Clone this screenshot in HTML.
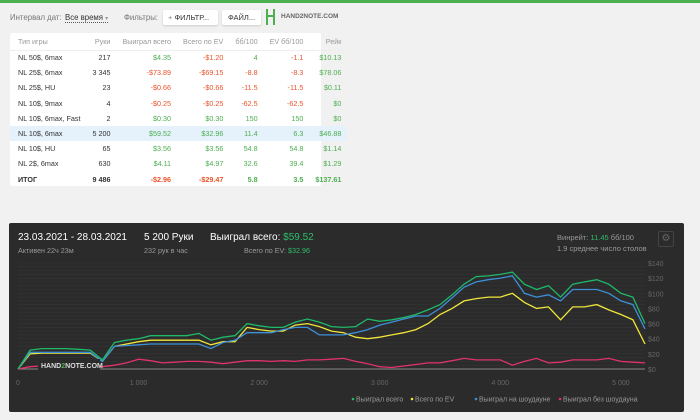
<!DOCTYPE html>
<html><head><meta charset="utf-8"><style>
*{margin:0;padding:0;box-sizing:border-box}
body{width:700px;height:420px;background:#f1f1f1;font-family:"Liberation Sans","Noto Sans CJK SC",sans-serif;position:relative;overflow:hidden}
.abs{position:absolute;white-space:nowrap}
.topline{left:0;top:0;width:700px;height:3px;background:#4caf50}
.card{left:10px;top:33px;width:311px;height:153px;background:#fff;border-radius:2px}
table{border-collapse:collapse;font-size:7.2px;color:#333;position:absolute;left:0;top:0;width:311px}
td,th{height:15.2px;padding:0 6px;text-align:right;font-weight:normal}
th{color:#999;height:17px}
td:first-child,th:first-child{text-align:left;padding-left:8px}
.g{color:#4caf50}.r{color:#e8542c}
tr.hl td{background:#e5f1fb}
tr.tot td{font-weight:bold}
tr.b td{border-top:1px solid #eee}
.panel{left:9px;top:223px;width:675px;height:189px;background:#2b2b2b;border-radius:2px}
.big{font-size:10px;color:#fff;top:232px}
</style></head><body>
<div class="abs topline"></div>
<div class="abs" style="left:10px;top:13px;font-size:7.8px;color:#777">Интервал дат:</div>
<div class="abs" style="left:65px;top:13px;font-size:7.8px;color:#333;border-bottom:1px dotted #555">Все время <span style="color:#999;font-size:6px">▾</span></div>
<div class="abs" style="left:124px;top:13px;font-size:7.8px;color:#777">Фильтры:</div>
<div class="abs" style="left:163px;top:10px;width:55px;height:15px;background:#fff;border-radius:2px;box-shadow:0 1px 2px #ccc;font-size:7.5px;color:#333;padding:3px 5px"><span style="color:#888">+</span> ФИЛЬТР...</div>
<div class="abs" style="left:222px;top:10px;width:39px;height:15px;background:#fff;border-radius:2px;box-shadow:0 1px 2px #ccc;font-size:7.5px;color:#333;padding:3px 6px">ФАЙЛ...</div>
<div class="abs" style="left:266px;top:9px;width:9px;height:16px;border-left:2px solid #4caf50;border-right:2px solid #4caf50"><div style="position:absolute;left:0;top:6px;width:5px;height:2px;background:#4caf50"></div></div>
<div class="abs" style="left:281px;top:13px;font-size:6.5px;color:#666;font-weight:bold">HAND2NOTE.COM</div>

<div class="abs card">
<table>
<tr><th>Тип игры</th><th>Руки</th><th>Выиграл всего</th><th>Всего по EV</th><th>бб/100</th><th>EV бб/100</th><th>Рейк</th></tr>
<tr class="b"><td>NL 50$, 6max</td><td>217</td><td class="g">$4.35</td><td class="r">-$1.20</td><td class="g">4</td><td class="r">-1.1</td><td class="g">$10.13</td></tr>
<tr><td>NL 25$, 6max</td><td>3 345</td><td class="r">-$73.89</td><td class="r">-$69.15</td><td class="r">-8.8</td><td class="r">-8.3</td><td class="g">$78.06</td></tr>
<tr><td>NL 25$, HU</td><td>23</td><td class="r">-$0.66</td><td class="r">-$0.66</td><td class="r">-11.5</td><td class="r">-11.5</td><td class="g">$0.11</td></tr>
<tr><td>NL 10$, 9max</td><td>4</td><td class="r">-$0.25</td><td class="r">-$0.25</td><td class="r">-62.5</td><td class="r">-62.5</td><td class="g">$0</td></tr>
<tr><td>NL 10$, 6max, Fast</td><td>2</td><td class="g">$0.30</td><td class="g">$0.30</td><td class="g">150</td><td class="g">150</td><td class="g">$0</td></tr>
<tr class="hl"><td>NL 10$, 6max</td><td>5 200</td><td class="g">$59.52</td><td class="g">$32.96</td><td class="g">11.4</td><td class="g">6.3</td><td class="g">$46.88</td></tr>
<tr><td>NL 10$, HU</td><td>65</td><td class="g">$3.56</td><td class="g">$3.56</td><td class="g">54.8</td><td class="g">54.8</td><td class="g">$1.14</td></tr>
<tr><td>NL 2$, 6max</td><td>630</td><td class="g">$4.11</td><td class="g">$4.97</td><td class="g">32.6</td><td class="g">39.4</td><td class="g">$1.29</td></tr>
<tr class="tot"><td>ИТОГ</td><td>9 486</td><td class="r">-$2.96</td><td class="r">-$29.47</td><td class="g">5.8</td><td class="g">3.5</td><td class="g">$137.61</td></tr>
</table></div>

<div class="abs panel"></div>
<div class="abs big" style="left:18px">23.03.2021 - 28.03.2021</div>
<div class="abs" style="left:18px;top:246px;font-size:7.2px;color:#999">Активен 22ч 23м</div>
<div class="abs big" style="left:144px">5 200 Руки</div>
<div class="abs" style="left:144px;top:246px;font-size:7.2px;color:#999">232 рук в час</div>
<div class="abs big" style="left:210px">Выиграл всего: <span style="color:#2ebd6b">$59.52</span></div>
<div class="abs" style="left:244px;top:246px;font-size:7.2px;color:#999">Всего по EV: <span style="color:#2ebd6b">$32.96</span></div>
<div class="abs" style="left:557px;top:233px;font-size:7.5px;color:#999">Винрейт: <span style="color:#2ebd6b">11.45</span> бб/100</div>
<div class="abs" style="left:557px;top:244px;font-size:7.5px;color:#999">1.9 среднее число столов</div>
<div class="abs" style="left:658px;top:231px;width:16px;height:16px;border:1px solid #444;border-radius:2px;color:#666;font-size:10px;text-align:center;line-height:14px">⚙</div>

<svg class="abs" style="left:0;top:0" width="700" height="420">
<g id="grid"></g><g id="lines"></g>
<rect x="38" y="359" width="62" height="12" fill="#2b2b2b"/>
<text x="41" y="368" font-size="7" font-weight="bold" fill="#ddd" font-family="Liberation Sans">HAND<tspan fill="#4caf50">2</tspan>NOTE.COM</text>
<g id="legend"></g>
</svg>
<script>
const hands=[0,100,200,300,400,500,600,700,800,900,1000,1100,1200,1300,1400,1500,1600,1700,1800,1900,2000,2100,2200,2300,2400,2500,2600,2700,2800,2900,3000,3100,3200,3300,3400,3500,3600,3700,3800,3900,4000,4100,4200,4300,4400,4500,4600,4700,4800,4900,5000,5100,5200];
const wonTotal=[0,25,27,27,27,26,25,12,35,38,40,44,44,44,44,47,38,42,44,60,57,55,55,62,66,62,56,55,56,66,63,65,68,72,78,85,98,112,122,123,125,128,112,105,110,95,112,115,118,112,100,95,60];
const wonEV=[0,20,21,21,21,21,21,10,30,33,36,38,38,38,38,38,32,36,36,55,52,50,50,58,60,56,50,48,42,40,42,45,48,52,60,72,80,90,93,95,95,100,88,80,82,65,82,82,85,78,72,65,33];
const wonSD=[0,22,22,22,22,22,22,10,30,31,32,33,33,33,33,33,27,35,38,48,48,48,52,55,55,45,45,45,48,52,58,62,66,70,70,80,94,108,115,118,120,123,100,95,98,90,105,105,105,100,90,85,53];
const wonNonSD=[0,3,4,4,4,4,4,3,5,8,13,11,8,9,10,10,9,7,9,11,11,10,11,10,12,12,13,14,10,7,3,2,4,6,8,8,11,14,12,12,12,5,10,14,8,9,12,12,12,14,10,9,8];
const yTicks=[0,20,40,60,80,100,120,140];
const xTicks=[0,1000,2000,3000,4000,5000];
const xTickLabels=["0","1 000","2 000","3 000","4 000","5 000"];
const legendNames=["Выиграл всего","Всего по EV","Выиграл на шоудауне","Выиграл без шоудауна"];
const colors=["#1fb96a","#f0e63a","#3d8fd8","#e0336a"];
const X=h=>18+h*(627/5200), Y=v=>369-v*(106/140);
const NS="http://www.w3.org/2000/svg";
function mk(t,a,p){const e=document.createElementNS(NS,t);for(const k in a)e.setAttribute(k,a[k]);p.appendChild(e);return e;}
const grid=document.getElementById('grid');
for(let v=0;v<=140;v+=5){const l=mk('line',{x1:18,x2:645,y1:Y(v),y2:Y(v),stroke:v===0?'#888':'#353535','stroke-width':v===0?1:0.6},grid);

}
yTicks.forEach(v=>{const t=mk('text',{x:648,y:Y(v)+3,'font-size':7,fill:'#666','font-family':'Liberation Sans'},grid);t.textContent='$'+v;

});
xTicks.forEach((h,i)=>{const t=mk('text',{x:X(h),y:385,'font-size':7,fill:'#666','text-anchor':'middle','font-family':'Liberation Sans'},grid);t.textContent=xTickLabels[i];

});
const lines=document.getElementById('lines');
[wonNonSD,wonEV,wonSD,wonTotal].forEach((s,k)=>{const ci=[3,1,2,0][k];
const pts=s.map((v,i)=>X(hands[i]).toFixed(1)+','+Y(v).toFixed(1)).join(' ');
const p=mk('polyline',{points:pts,fill:'none',stroke:colors[ci],'stroke-width':1.3},lines);

});
const lg=document.getElementById('legend');const lx=[353,412,476,560];
legendNames.forEach((n,i)=>{const c=mk('circle',{cx:lx[i],cy:399,r:1.3,fill:colors[i]},lg);


const t=mk('text',{x:lx[i]+3,y:401.5,'font-size':7,fill:'#999','font-family':'Liberation Sans'},lg);t.textContent=n;

});
</script>
</body></html>
